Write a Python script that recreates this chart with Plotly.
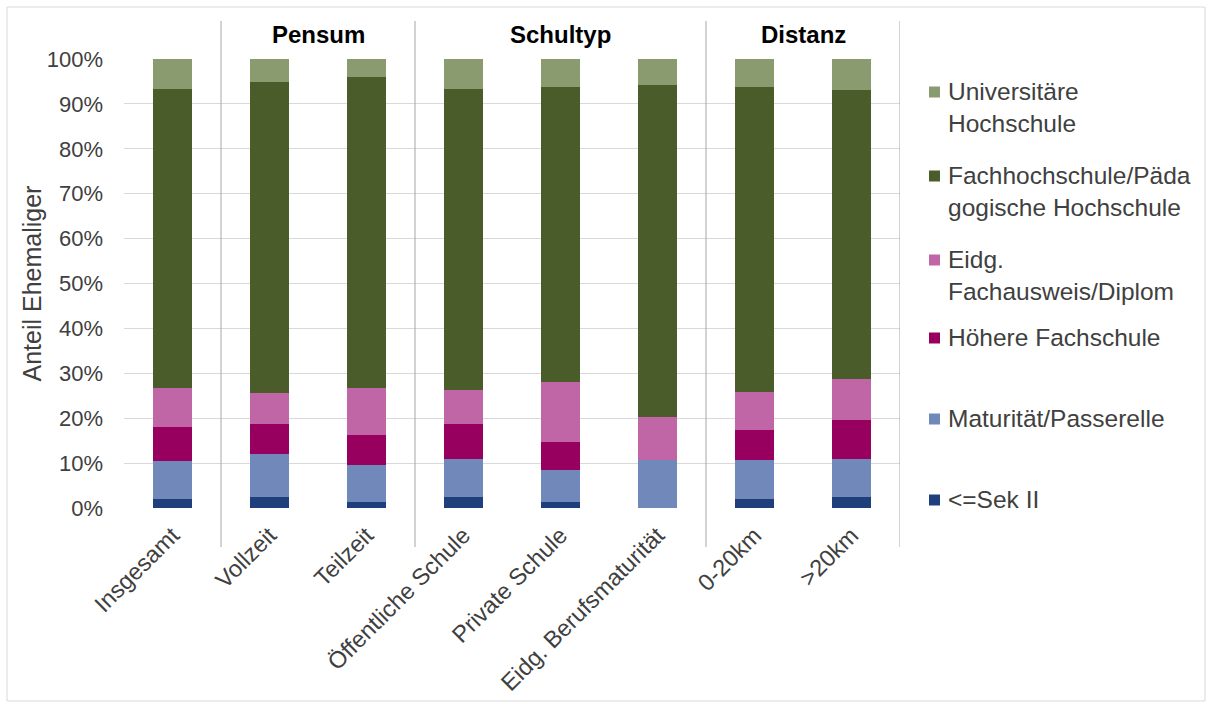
import plotly.graph_objects as go

# Categories along the x axis
categories = ["Insgesamt", "Vollzeit", "Teilzeit", "Öffentliche Schule",
              "Private Schule", "Eidg. Berufsmaturität", "0-20km", ">20km"]

# Share of former students (%) per highest qualification, stacked bottom to top
sek2 = [2.0, 2.4, 1.3, 2.4, 1.3, 0.0, 2.0, 2.4]
maturitaet = [8.5, 9.6, 8.2, 8.5, 7.2, 10.8, 8.6, 8.5]
hoehere_fs = [7.6, 6.8, 6.8, 7.9, 6.3, 0.0, 6.8, 8.6]
eidg_fa = [8.6, 6.8, 10.4, 7.5, 13.2, 9.4, 8.4, 9.2]
fh_ph = [66.7, 69.2, 69.2, 67.1, 65.8, 73.9, 68.0, 64.3]
uni = [6.6, 5.2, 4.1, 6.6, 6.2, 5.9, 6.2, 7.0]

series_names = ["<=Sek II", "Maturität/Passerelle", "Höhere Fachschule",
                "Eidg. Fachausweis/Diplom", "Fachhochschule/Pädagogische Hochschule",
                "Universitäre Hochschule"]
series_values = [sek2, maturitaet, hoehere_fs, eidg_fa, fh_ph, uni]
colors = ["#1f3f7c", "#7089ba", "#97005f", "#c066a6", "#4a5c29", "#8b9b70"]

# y axis ticks
y_ticks = list(range(0, 101, 10))
y_ticktext = [f"{v}%" for v in y_ticks]

# Legend text (as wrapped in the legend box), top to bottom
legend_labels = ["Universitäre<br>Hochschule", "Fachhochschule/Päda<br>gogische Hochschule",
                 "Eidg.<br>Fachausweis/Diplom", "Höhere Fachschule",
                 "Maturität/Passerelle", "<=Sek II"]
legend_colors = ["#8b9b70", "#4a5c29", "#c066a6", "#97005f", "#7089ba", "#1f3f7c"]

# Group headings and the separators between the groups
group_names = ["Pensum", "Schultyp", "Distanz"]
group_centers = [1.5, 4.0, 6.5]
group_separators = [0.5, 2.5, 5.5, 7.5]

FONT = "Liberation Sans, Arial, sans-serif"
TXT = "#404040"

fig = go.Figure()
for name, vals, col in zip(series_names, series_values, colors):
    fig.add_trace(go.Bar(x=list(range(len(categories))), y=vals, name=name,
                         marker=dict(color=col, line=dict(width=0)),
                         showlegend=False))

W, H = 1213, 707
L, R, T, B = 124, 900, 59, 508
pw, ph = R - L, B - T


def px_x(px):
    return (px - L) / pw


def px_y(py):
    return (B - py) / ph


fig.update_layout(
    width=W, height=H,
    margin=dict(l=L, r=W - R, t=T, b=H - B),
    barmode="stack", bargap=0.6,
    plot_bgcolor="white", paper_bgcolor="white",
    font=dict(family=FONT, color=TXT, size=22),
    xaxis=dict(tickmode="array", tickvals=list(range(len(categories))),
               ticktext=categories, tickangle=-45, range=[-0.5, 7.5],
               showgrid=False, zeroline=False, showline=False, ticklabelstandoff=8,
               tickfont=dict(size=23.5, color=TXT, family=FONT)),
    yaxis=dict(range=[0, 100], tickmode="array", tickvals=y_ticks, ticktext=y_ticktext,
               showgrid=True, gridcolor="#d9d9d9", gridwidth=1,
               zeroline=False, showline=False, ticklabelstandoff=20,
               tickfont=dict(size=22, color=TXT, family=FONT)),
)

shapes = []
# Outer frame of the chart area
shapes.append(dict(type="rect", xref="paper", yref="paper",
                   x0=px_x(7), x1=px_x(1205), y0=px_y(701), y1=px_y(7),
                   line=dict(color="#d9d9d9", width=1), fillcolor="rgba(0,0,0,0)",
                   layer="below"))
# Group separator lines
for xs in group_separators:
    shapes.append(dict(type="line", xref="x", yref="paper", x0=xs, x1=xs,
                       y0=px_y(547), y1=px_y(21),
                       line=dict(color="#a6a6a6", width=1)))
# Legend swatches
legend_rows = [92, 176, 260, 338, 419, 500]
for yy, col in zip(legend_rows, legend_colors):
    shapes.append(dict(type="rect", xref="paper", yref="paper",
                       x0=px_x(929), x1=px_x(940), y0=px_y(yy + 5.5), y1=px_y(yy - 5.5),
                       line=dict(width=0), fillcolor=col))

annotations = []
for name, c in zip(group_names, group_centers):
    annotations.append(dict(x=c, y=px_y(34), xref="x", yref="paper", text=f"<b>{name}</b>",
                            showarrow=False, font=dict(size=24, color="#000000", family=FONT),
                            xanchor="center", yanchor="middle"))
for yy, lab in zip(legend_rows, legend_labels):
    annotations.append(dict(x=px_x(946), y=px_y(yy - 16), xref="paper", yref="paper",
                            text=lab, showarrow=False, align="left",
                            xanchor="left", yanchor="top",
                            font=dict(size=24.5, color=TXT, family=FONT)))
annotations.append(dict(x=px_x(31), y=0.5, xref="paper", yref="paper",
                        text="Anteil Ehemaliger", textangle=-90, showarrow=False,
                        xanchor="center", yanchor="middle",
                        font=dict(size=25, color=TXT, family=FONT)))

fig.update_layout(shapes=shapes, annotations=annotations)
fig.write_html("out.html")
